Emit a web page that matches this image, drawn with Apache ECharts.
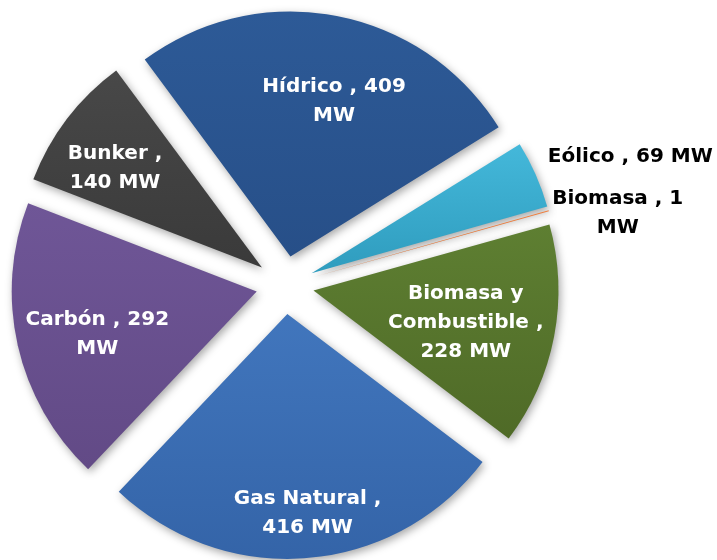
<!DOCTYPE html>
<html>
<head>
<meta charset="utf-8">
<script src="https://cdn.jsdelivr.net/npm/echarts@6/dist/echarts.min.js"></script>
<style>
  html, body { margin: 0; padding: 0; background: #fff; }
  #chart { width: 717px; height: 560px; }
</style>
</head>
<body>
<div id="chart"></div>
<script>
  // capacidad instalada por fuente
  const sources = ['Hídrico', 'Eólico', 'Biomasa', 'Biomasa y Combustible', 'Gas Natural', 'Carbón', 'Bunker']
  const capacityMW = [409, 69, 1, 228, 416, 292, 140]

  // how each label is broken into lines
  const labelTpl = ['{n} , {v}\nMW', '{n} , {v} MW', '{n} , {v}\nMW', '{n} ,\n{v} MW', '{n} ,\n{v} MW', '{n} , {v}\nMW', '{n} ,\n{v} MW']
  const labelOffsets = [[20, -32], [204, -66], [184, -30], [29, 9], [10, 74], [-37, 15], [-47, -23]]
  const labelColors = ['#fff', '#000', '#000', '#fff', '#fff', '#fff', '#fff']
  const topColors = ['#2d5a97', '#44b8da', '#f08040', '#5e7f32', '#4176bd', '#6f5697', '#484848']
  const bottomColors = ['#274f88', '#2f9cbe', '#d06020', '#4f6a27', '#3464a8', '#624a86', '#3a3a3a']

  let myChart = echarts.init(document.getElementById('chart'))

  let data = sources.map((name, i) => ({
    name: name,
    value: capacityMW[i],
    selected: true,
    itemStyle: {
      color: new echarts.graphic.LinearGradient(0, 0, 0, 1, [
        { offset: 0, color: topColors[i] },
        { offset: 1, color: bottomColors[i] }
      ])
    },
    label: {
      color: labelColors[i]
    }
  }))

  let option = {
    animation: false,
    series: [{
      type: 'pie',
      center: [285, 285],
      radius: 245,
      startAngle: 126.5,
      clockwise: true,
      selectedMode: 'multiple',
      selectedOffset: 29,
      avoidLabelOverlap: false,
      emphasis: { disabled: true },
      itemStyle: {
        shadowBlur: 8,
        shadowColor: 'rgba(0, 0, 0, 0.35)',
        shadowOffsetX: 2,
        shadowOffsetY: 3
      },
      label: {
        show: true,
        position: 'inside',
        rotate: 0,
        fontFamily: 'DejaVu Sans',
        fontWeight: 'bold',
        fontSize: 20,
        lineHeight: 29,
        align: 'center',
        formatter: function (p) {
          let n = p.name.replace('y Combustible', 'y\nCombustible')
          return labelTpl[p.dataIndex].replace('{n}', n).replace('{v}', p.value)
        }
      },
      labelLayout: function (p) {
        return { dx: labelOffsets[p.dataIndex][0], dy: labelOffsets[p.dataIndex][1] }
      },
      labelLine: { show: false },
      data: data
    }]
  }
  myChart.setOption(option)
</script>
</body>
</html>
